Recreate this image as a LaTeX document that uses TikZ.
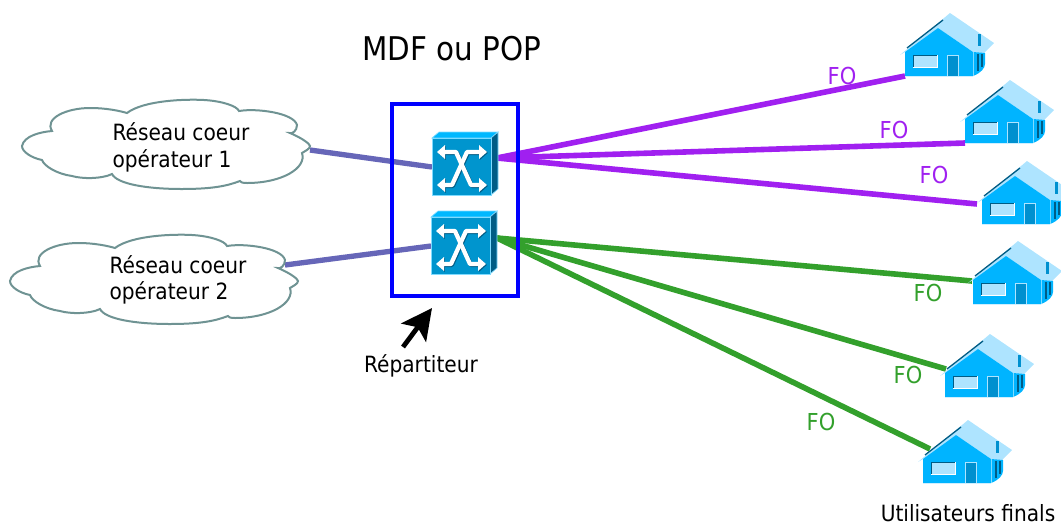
\documentclass[tikz,border=0pt]{standalone}
\usepackage{fontspec}
\setmainfont{DejaVu Sans Condensed}
\usetikzlibrary{arrows.meta}
\definecolor{cloudline}{HTML}{6F9393}
\definecolor{corelink}{HTML}{6666B8}
\definecolor{fopurple}{HTML}{A020F0}
\definecolor{fogreen}{HTML}{33A02C}
\definecolor{boxblue}{HTML}{0000FF}
\definecolor{swfront}{HTML}{0095CE}
\definecolor{swtop}{HTML}{00B8FF}
\definecolor{swside}{HTML}{005C85}
\definecolor{swedge}{HTML}{7FDBFF}
\definecolor{hwall}{HTML}{00B4FF}
\definecolor{hroof}{HTML}{AEE4FF}
\definecolor{hdoor}{HTML}{0090CF}
\definecolor{hdark}{HTML}{005C85}
\tikzset{
  x=0.75pt,y=-0.75pt,
  cloudshape/.style={draw=cloudline,fill=white,line width=1.5pt},
  corelinkline/.style={draw=corelink,line width=4pt},
  purpleline/.style={draw=fopurple,line width=4.2pt},
  greenline/.style={draw=fogreen,line width=4.2pt},
  lbl/.style={font=\fontsize{16.8}{20}\selectfont,align=left,inner sep=0pt},
  fopurplelbl/.style={lbl,text=fopurple,font=\fontsize{17.5}{20}\selectfont},
  fogreenlbl/.style={lbl,text=fogreen,font=\fontsize{17.5}{20}\selectfont},
  pics/cloudpic/.style={code={
    \draw[cloudshape] (0,0)
      .. controls (2,-10) and (18,-14) .. (30,-15)
      .. controls (22,-28) and (45,-38) .. (68,-38)
      .. controls (85,-38) and (98,-35) .. (105,-33)
      .. controls (122,-46) and (165,-47) .. (182,-46)
      .. controls (200,-45) and (215,-40) .. (217,-35)
      .. controls (235,-38) and (272,-33) .. (275,-21)
      .. controls (275,-15) and (270,-12) .. (268,-13)
      .. controls (280,-8) and (288,-2) .. (288,0)
      .. controls (288,3) and (283,5) .. (280,7)
      .. controls (285,22) and (260,37) .. (225,37)
      .. controls (220,37) and (218,36) .. (218,35)
      .. controls (205,40) and (190,43) .. (160,43)
      .. controls (125,43) and (95,38) .. (90,28)
      .. controls (80,33) and (60,33) .. (50,30)
      .. controls (35,28) and (22,20) .. (20,14)
      .. controls (10,12) and (0,6) .. (0,0) -- cycle;
  }},
  pics/switchpic/.style={code={
    % origin at top-left of the front face
    \fill[swtop,draw=swedge,line width=0.5pt] (0,0) -- (7,-6) -- (66,-6) -- (59,0) -- cycle;
    \fill[swside,draw=swedge,line width=0.5pt] (59,0) -- (66,-6) -- (66,51) -- (59,57) -- cycle;
    \fill[swfront,draw=swedge,line width=0.6pt] (0,0) rectangle (59,57);
    \foreach \dx/\dy/\c in {0.9/0.9/swside,0/0/white}{
      \begin{scope}[shift={(\dx,\dy)}]
      \draw[\c,line width=3.2pt,line join=round] (10,14) -- (24,14) -- (39,47) -- (49,47);
      \draw[\c,line width=3.2pt,line join=round] (10,47) -- (20,47) -- (35,14) -- (49,14);
      \fill[\c] (5,14) -- (13,7) -- (13,21) -- cycle;
      \fill[\c] (5,47) -- (13,40) -- (13,54) -- cycle;
      \fill[\c] (55,14) -- (47,7) -- (47,21) -- cycle;
      \fill[\c] (55,47) -- (47,40) -- (47,54) -- cycle;
      \end{scope}
    }
  }},
  pics/housepic/.style={code={
    % origin at bottom-left of the front wall
    \fill[hroof] (-5,-21) -- (45,-63) -- (89,-33) -- (78,-22) -- (68,-24) -- (33,-48) -- (0,-24) -- cycle;
    \draw[hdark,line width=1pt] (2,-28) -- (38,-56);
    \fill[hwall] (0,0) -- (0,-24) -- (33,-48) -- (68,-24) -- (68,0) -- cycle;
    \fill[hwall] (68,0) -- (68,-24) -- (80,-23) -- (80,-12) .. controls (80,-8) and (76,-3) .. (68,0) -- cycle;
    \draw[swedge,line width=0.6pt] (68,0) -- (68,-24);
    \fill[hdark] (72,-22) rectangle (74,-5);
    \fill[hdark] (76,-22) rectangle (78,-9);
    \fill[hroof] (8,-21) rectangle (32,-9);
    \draw[hdark,line width=0.7pt] (8,-9) -- (8,-21) -- (32,-21);
    \draw[white,line width=0.7pt] (8,-9) -- (32,-9) -- (32,-21);
    \fill[hdoor,draw=hroof,line width=0.7pt] (42,0) rectangle (53,-21);
    \fill[hdoor] (73,-42) rectangle (76,-30);
    \draw[hroof!60!white,line width=0.4pt] (0,0) -- (68,0);
  }}
}
\begin{document}
\begin{tikzpicture}
\useasboundingbox (0,0) rectangle (1061,526);
% anchor coordinates
\coordinate (core1) at (310,150);
\coordinate (core2) at (285,265);
\coordinate (sw1) at (432,138);
\coordinate (sw2) at (431,217);
\coordinate (sw1in) at (432,167);
\coordinate (sw2in) at (431,246);
\coordinate (sw1out) at (497,158);
\coordinate (sw2out) at (497,238);
\coordinate (h1) at (905,76);
\coordinate (h2) at (965,143);
\coordinate (h3) at (977,204);
\coordinate (h4) at (972,281);
\coordinate (h5) at (946,369);
\coordinate (h6) at (930,449);
\coordinate (arrowfrom) at (403,347);
\coordinate (arrowto) at (432,308);
% links
\draw[corelinkline] (core1) -- (sw1in);
\draw[corelinkline] (core2) -- (sw2in);
\draw[purpleline] (sw1out) -- (h1);
\draw[purpleline] (sw1out) -- (h2);
\draw[purpleline] (sw1out) -- (h3);
\draw[greenline] (sw2out) -- (h4);
\draw[greenline] (sw2out) -- (h5);
\draw[greenline] (sw2out) -- (h6);
% clouds
\pic at (22,146) {cloudpic};
\pic at (10,281) {cloudpic};
% box
\node[draw=boxblue,line width=3.7pt,minimum width=94.5pt,minimum height=144pt,inner sep=0pt] (mdfbox) at (455,200) {};
% switches
\pic at (sw1) {switchpic};
\pic at (sw2) {switchpic};
% houses
\pic at (905,76) {housepic};
\pic at (965,143) {housepic};
\pic at (982,224) {housepic};
\pic at (973,304) {housepic};
\pic at (945,397) {housepic};
\pic at (923,483) {housepic};
% arrow
\draw[-{Stealth[length=23pt,width=23pt,inset=5pt]},line width=3.6pt,black] (arrowfrom) -- (arrowto);
% labels
\node[lbl,font=\fontsize{24.5}{28}\selectfont] (title) at (452,49) {MDF ou POP};
\node[lbl] (c1a) at (181,132) {Réseau coeur};
\node[lbl] (c1b) at (172,161) {opérateur 1};
\node[lbl] (c2a) at (178,265) {Réseau coeur};
\node[lbl] (c2b) at (169,293) {opérateur 2};
\node[lbl] (rep) at (421,366) {Répartiteur};
\node[lbl] (users) at (968,513.5) {Utilisateurs finals};
\node[fopurplelbl] (fo1) at (842,76) {FO};
\node[fopurplelbl] (fo2) at (894,130) {FO};
\node[fopurplelbl] (fo3) at (934,175) {FO};
\node[fogreenlbl] (fo4) at (928,293) {FO};
\node[fogreenlbl] (fo5) at (908,375) {FO};
\node[fogreenlbl] (fo6) at (821,422) {FO};
\end{tikzpicture}
\end{document}
